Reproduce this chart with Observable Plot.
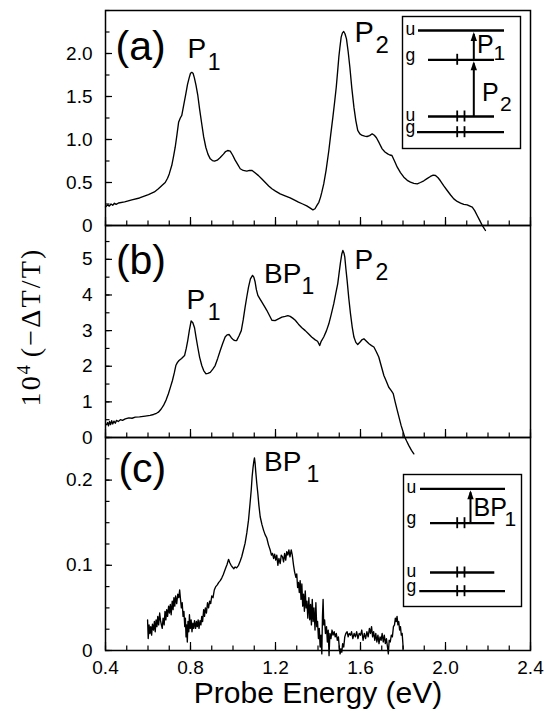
<!DOCTYPE html>
<html>
<head>
<meta charset="utf-8">
<script src="https://cdn.jsdelivr.net/npm/d3@7"></script>
<script src="https://cdn.jsdelivr.net/npm/@observablehq/plot@0.6"></script>
<style>
  body { margin: 0; background: #fff; }
  #chart { position: relative; width: 545px; height: 713px; overflow: hidden; background: #fff; }
  #chart svg { position: absolute; overflow: visible; }
  #ylab { position: absolute; left: 31px; top: 327px; transform: translate(-50%, -50%) rotate(-90deg);
          font-family: "Liberation Serif", "Times New Roman", serif; font-size: 28px; letter-spacing: 2.2px; white-space: nowrap; color: #000; line-height: 1; }
  #ylab sup { font-size: 0.65em; vertical-align: 0.55em; line-height: 0; letter-spacing: 0; }
</style>
</head>
<body>
<div id="chart"><div id="ylab">10<sup>4</sup>&#8201;(&#8722;&#916;T/T)</div></div>
<script>
// ---------- tick values ----------
const xMajor = [0.4, 0.8, 1.2, 1.6, 2.0, 2.4];
const xMinor = d3.range(4, 25).map(d => d / 10);
const yMajorA = [0, 0.5, 1.0, 1.5, 2.0];
const yMinorA = d3.range(0, 11).map(d => d * 0.25);
const yMajorB = [0, 1, 2, 3, 4, 5];
const yMinorB = d3.range(0, 12).map(d => d * 0.5);
const yMajorC = [0, 0.1, 0.2];
const yMinorC = d3.range(0, 11).map(d => d * 0.025);

// ---------- spectra: [probe energy (eV), 10^4(-dT/T)] ----------
const spectrumA = [[0.400,0.215],[0.410,0.240],[0.418,0.225],[0.426,0.250],[0.434,0.235],[0.442,0.258],[0.450,0.245],[0.461,0.262],[0.49,0.275],[0.524,0.299],[0.56,0.32],[0.602,0.36],[0.63,0.39],[0.649,0.427],[0.668,0.47],[0.681,0.50],[0.692,0.55],[0.700,0.60],[0.712,0.70],[0.72,0.80],[0.728,0.91],[0.736,1.05],[0.744,1.20],[0.752,1.25],[0.759,1.28],[0.768,1.40],[0.778,1.53],[0.786,1.64],[0.794,1.72],[0.800,1.77],[0.806,1.78],[0.812,1.77],[0.818,1.72],[0.826,1.63],[0.834,1.52],[0.843,1.35],[0.853,1.18],[0.862,1.03],[0.872,0.91],[0.882,0.83],[0.893,0.775],[0.903,0.755],[0.913,0.748],[0.926,0.76],[0.94,0.79],[0.955,0.83],[0.965,0.86],[0.975,0.872],[0.987,0.864],[0.998,0.82],[1.01,0.76],[1.022,0.71],[1.034,0.66],[1.048,0.64],[1.065,0.632],[1.078,0.64],[1.09,0.64],[1.105,0.61],[1.12,0.58],[1.136,0.54],[1.152,0.50],[1.168,0.46],[1.183,0.427],[1.2,0.40],[1.222,0.368],[1.245,0.345],[1.269,0.322],[1.29,0.295],[1.308,0.271],[1.328,0.25],[1.347,0.228],[1.362,0.205],[1.376,0.182],[1.386,0.195],[1.395,0.233],[1.404,0.27],[1.412,0.33],[1.418,0.388],[1.427,0.484],[1.438,0.64],[1.451,0.872],[1.46,1.06],[1.47,1.26],[1.478,1.43],[1.486,1.61],[1.492,1.78],[1.498,1.957],[1.503,2.07],[1.509,2.19],[1.515,2.24],[1.521,2.256],[1.527,2.23],[1.534,2.17],[1.542,2.02],[1.55,1.84],[1.559,1.60],[1.569,1.376],[1.578,1.22],[1.587,1.105],[1.597,1.065],[1.608,1.047],[1.62,1.04],[1.631,1.035],[1.643,1.045],[1.655,1.066],[1.665,1.05],[1.675,1.02],[1.688,0.96],[1.702,0.891],[1.715,0.855],[1.728,0.833],[1.738,0.82],[1.748,0.814],[1.76,0.75],[1.773,0.678],[1.788,0.615],[1.804,0.562],[1.82,0.525],[1.835,0.504],[1.851,0.49],[1.867,0.484],[1.882,0.50],[1.898,0.52],[1.913,0.545],[1.929,0.57],[1.942,0.585],[1.953,0.581],[1.965,0.555],[1.976,0.52],[1.992,0.46],[2.008,0.407],[2.024,0.355],[2.039,0.31],[2.055,0.28],[2.071,0.26],[2.086,0.245],[2.102,0.24],[2.115,0.225],[2.126,0.213],[2.138,0.17],[2.149,0.116],[2.161,0.06],[2.173,0.0],[2.181,-0.03],[2.188,-0.058]];

const spectrumB = [[0.405,0.36],[0.410,0.42],[0.414,0.33],[0.419,0.45],[0.424,0.36],[0.429,0.47],[0.434,0.38],[0.440,0.46],[0.446,0.40],[0.452,0.48],[0.460,0.45],[0.470,0.50],[0.480,0.48],[0.493,0.525],[0.51,0.55],[0.525,0.54],[0.54,0.57],[0.56,0.58],[0.587,0.60],[0.61,0.62],[0.626,0.646],[0.64,0.68],[0.649,0.71],[0.662,0.80],[0.673,0.90],[0.685,1.05],[0.696,1.23],[0.706,1.42],[0.715,1.60],[0.724,1.82],[0.731,2.02],[0.738,2.10],[0.746,2.16],[0.758,2.22],[0.772,2.30],[0.78,2.50],[0.787,2.72],[0.795,3.02],[0.803,3.27],[0.811,3.22],[0.819,3.08],[0.826,2.82],[0.834,2.54],[0.843,2.25],[0.853,2.02],[0.862,1.88],[0.872,1.79],[0.882,1.80],[0.893,1.83],[0.905,1.92],[0.916,2.02],[0.928,2.22],[0.94,2.44],[0.951,2.63],[0.963,2.82],[0.972,2.88],[0.982,2.89],[0.992,2.80],[1.002,2.74],[1.010,2.72],[1.017,2.72],[1.028,2.85],[1.039,3.0],[1.048,3.30],[1.057,3.66],[1.065,3.95],[1.073,4.22],[1.082,4.45],[1.092,4.55],[1.098,4.50],[1.104,4.37],[1.110,4.15],[1.117,3.99],[1.126,3.90],[1.136,3.80],[1.148,3.68],[1.159,3.57],[1.171,3.43],[1.183,3.29],[1.198,3.28],[1.214,3.33],[1.23,3.38],[1.246,3.40],[1.258,3.42],[1.269,3.40],[1.281,3.35],[1.293,3.29],[1.308,3.18],[1.324,3.08],[1.34,3.0],[1.355,2.91],[1.37,2.82],[1.387,2.74],[1.398,2.70],[1.408,2.58],[1.415,2.70],[1.427,2.82],[1.44,3.0],[1.451,3.19],[1.462,3.45],[1.474,3.75],[1.484,4.05],[1.493,4.32],[1.500,4.65],[1.506,4.92],[1.512,5.15],[1.517,5.25],[1.522,5.18],[1.526,5.07],[1.531,4.75],[1.537,4.41],[1.545,3.90],[1.553,3.47],[1.561,3.10],[1.569,2.82],[1.578,2.67],[1.587,2.61],[1.598,2.68],[1.608,2.75],[1.616,2.77],[1.628,2.70],[1.64,2.63],[1.652,2.58],[1.663,2.54],[1.675,2.40],[1.686,2.26],[1.698,2.00],[1.71,1.74],[1.722,1.57],[1.733,1.41],[1.744,1.32],[1.754,1.23],[1.763,1.00],[1.773,0.76],[1.782,0.55],[1.791,0.34],[1.80,0.17],[1.807,0.03],[1.817,-0.10],[1.827,-0.22],[1.84,-0.36],[1.851,-0.46]];

const spectrumC = [[0.598,0.036],[0.601,0.014],[0.605,0.030],[0.609,0.020],[0.613,0.028],[0.617,0.018],[0.621,0.031],[0.626,0.024],[0.630,0.034],[0.634,0.022],[0.638,0.036],[0.642,0.028],[0.646,0.040],[0.650,0.030],[0.655,0.044],[0.659,0.035],[0.663,0.030],[0.667,0.026],[0.671,0.038],[0.676,0.030],[0.680,0.046],[0.684,0.036],[0.688,0.048],[0.692,0.040],[0.697,0.052],[0.701,0.044],[0.705,0.054],[0.709,0.042],[0.714,0.058],[0.718,0.048],[0.722,0.062],[0.726,0.052],[0.730,0.064],[0.735,0.055],[0.740,0.066],[0.745,0.062],[0.749,0.071],[0.753,0.060],[0.757,0.050],[0.761,0.056],[0.765,0.040],[0.769,0.046],[0.773,0.028],[0.776,0.038],[0.779,0.016],[0.782,0.030],[0.785,0.010],[0.788,0.034],[0.792,0.022],[0.795,0.042],[0.799,0.026],[0.803,0.036],[0.807,0.022],[0.811,0.032],[0.815,0.026],[0.819,0.035],[0.824,0.026],[0.828,0.034],[0.832,0.028],[0.836,0.036],[0.840,0.026],[0.845,0.035],[0.849,0.030],[0.853,0.040],[0.857,0.034],[0.862,0.048],[0.866,0.040],[0.870,0.050],[0.875,0.044],[0.880,0.056],[0.885,0.050],[0.890,0.058],[0.895,0.055],[0.900,0.064],[0.906,0.062],[0.912,0.071],[0.919,0.075],[0.926,0.077],[0.933,0.080],[0.940,0.082],[0.947,0.085],[0.954,0.089],[0.960,0.093],[0.966,0.097],[0.972,0.101],[0.979,0.107],[0.985,0.103],[0.991,0.100],[0.997,0.098],[1.004,0.096],[1.010,0.098],[1.017,0.097],[1.026,0.100],[1.034,0.105],[1.041,0.110],[1.049,0.118],[1.057,0.126],[1.065,0.138],[1.073,0.153],[1.080,0.172],[1.086,0.189],[1.090,0.204],[1.094,0.214],[1.098,0.222],[1.101,0.226],[1.104,0.220],[1.107,0.210],[1.112,0.196],[1.117,0.184],[1.122,0.170],[1.128,0.157],[1.136,0.148],[1.144,0.141],[1.151,0.136],[1.159,0.132],[1.167,0.124],[1.175,0.118],[1.181,0.112],[1.186,0.114],[1.191,0.108],[1.196,0.113],[1.201,0.106],[1.206,0.112],[1.211,0.100],[1.216,0.108],[1.222,0.102],[1.227,0.112],[1.233,0.110],[1.238,0.104],[1.243,0.114],[1.248,0.106],[1.253,0.116],[1.258,0.112],[1.263,0.118],[1.268,0.110],[1.274,0.118],[1.279,0.112],[1.285,0.100],[1.290,0.092],[1.296,0.086],[1.300,0.090],[1.304,0.074],[1.308,0.080],[1.312,0.068],[1.316,0.082],[1.320,0.060],[1.324,0.078],[1.328,0.052],[1.332,0.066],[1.336,0.046],[1.340,0.070],[1.344,0.050],[1.348,0.058],[1.352,0.038],[1.357,0.062],[1.361,0.036],[1.365,0.054],[1.369,0.030],[1.373,0.060],[1.377,0.034],[1.381,0.050],[1.386,0.024],[1.390,0.056],[1.394,0.028],[1.398,0.034],[1.402,0.014],[1.406,0.026],[1.410,0.004],[1.414,0.018],[1.418,-0.004],[1.421,0.040],[1.424,0.060],[1.427,0.030],[1.431,0.036],[1.435,0.020],[1.440,0.028],[1.444,0.010],[1.448,0.024],[1.452,-0.006],[1.456,0.020],[1.461,0.014],[1.466,0.024],[1.471,0.018],[1.476,0.022],[1.481,0.016],[1.486,0.020],[1.491,0.012],[1.496,0.016],[1.500,0.004],[1.504,-0.004],[1.508,0.002],[1.512,-0.002],[1.516,0.008],[1.521,0.004],[1.526,0.016],[1.531,0.020],[1.537,0.022],[1.542,0.016],[1.547,0.020],[1.553,0.018],[1.558,0.022],[1.564,0.014],[1.570,0.020],[1.576,0.016],[1.582,0.022],[1.588,0.014],[1.594,0.020],[1.600,0.018],[1.606,0.024],[1.612,0.012],[1.618,0.020],[1.624,0.014],[1.630,0.022],[1.636,0.016],[1.642,0.026],[1.647,0.020],[1.652,0.028],[1.657,0.016],[1.662,0.022],[1.667,0.012],[1.672,0.020],[1.677,0.010],[1.682,0.018],[1.687,0.008],[1.692,0.016],[1.697,0.012],[1.702,0.020],[1.707,0.010],[1.712,0.018],[1.717,0.008],[1.722,0.014],[1.727,0.004],[1.731,-0.004],[1.735,0.012],[1.740,0.010],[1.745,0.018],[1.750,0.016],[1.755,0.028],[1.760,0.030],[1.764,0.038],[1.768,0.034],[1.772,0.040],[1.776,0.030],[1.780,0.034],[1.784,0.024],[1.788,0.028],[1.792,0.018],[1.796,0.020],[1.799,0.010],[1.801,0.002]];

// ---------- inset level schemes (schematic units) ----------
const levelsA = [{name:"u", y:14, x1:16, x2:102},{name:"g", y:43.3, x1:26, x2:92},{name:"u", y:100, x1:26, x2:92},{name:"g", y:115.7, x1:15, x2:102}];
const electronsA = [{x:54.7, y:43.3},{x:54.7, y:100},{x:62, y:100},{x:54.7, y:115.7},{x:62, y:115.7}];
const transitionsA = [{x:71.3, y1:100, y2:43.3},{x:71.3, y1:43.3, y2:14}];
const levelsC = [{name:"u", y:14.3, x1:17, x2:102},{name:"g", y:48.7, x1:27, x2:91.3},{name:"u", y:98, x1:27, x2:91.3},{name:"g", y:116.7, x1:16.3, x2:102}];
const electronsC = [{x:53.7, y:48.7},{x:61, y:48.7},{x:53.7, y:98},{x:61, y:98},{x:53.7, y:116.7},{x:61, y:116.7}];
const transitionsC = [{x:67, y1:48.7, y2:14.3}];

const FONT = "'Liberation Sans', Arial, Helvetica, sans-serif";
const chart = document.getElementById("chart");
const fmtA = d => d === 0 ? "0" : d3.format(".1f")(d);
const fmtB = d => String(d);
const fmtC = d => d === 0 ? "0" : d3.format(".1f")(d);

function axes(yMajor, yMinor, yFmt, showXLabels) {
  return [
    Plot.axisX(xMinor, {tickSize: -4.5, fill: "none", strokeWidth: 1.2, label: null}),
    Plot.axisX(xMajor, showXLabels
      ? {tickSize: -8, tickPadding: 18, tickFormat: d3.format(".1f"), fontSize: 19, strokeWidth: 1.2, label: null}
      : {tickSize: -8, fill: "none", strokeWidth: 1.2, label: null}),
    Plot.axisY(yMinor, {tickSize: -4.5, fill: "none", strokeWidth: 1.2, label: null}),
    Plot.axisY(yMajor, {tickSize: -7, tickPadding: 20, tickFormat: yFmt, fontSize: 19, strokeWidth: 1.2, label: null}),
    Plot.frame({strokeWidth: 1.5})
  ];
}
function curve(data) {
  return Plot.line(data, {x: d => d[0], y: d => d[1], stroke: "#000", strokeWidth: 1.35, clip: false});
}
function label(text, x, y, size) {
  return Plot.text([text], {x, y, text: d => d, textAnchor: "start", lineAnchor: "bottom", fontSize: size, fill: "#000"});
}
function place(svg, left, top) {
  svg.style.left = left + "px";
  svg.style.top = top + "px";
  chart.appendChild(svg);
}
const baseStyle = {background: "transparent", overflow: "visible", fontFamily: FONT, color: "#000"};

// panel (a)
place(Plot.plot({
  width: 545, height: 225, marginLeft: 105, marginRight: 15, marginTop: 10, marginBottom: 0,
  style: baseStyle,
  x: {domain: [0.4, 2.4], axis: null}, y: {domain: [0, 2.5], axis: null},
  marks: [
    ...axes(yMajorA, yMinorA, fmtA, false),
    curve(spectrumA),
    label("(a)", 0.447, 1.93, 41),
    label("P", 0.786, 1.953, 28), label("1", 0.881, 1.81, 23),
    label("P", 1.572, 2.131, 29), label("2", 1.671, 2.003, 24)
  ]
}), 0, 0);

// panel (b)
place(Plot.plot({
  width: 545, height: 212, marginLeft: 105, marginRight: 15, marginTop: 0, marginBottom: 0,
  style: baseStyle,
  x: {domain: [0.4, 2.4], axis: null}, y: {domain: [0, 5.95], axis: null},
  marks: [
    ...axes(yMajorB, yMinorB, fmtB, false),
    curve(spectrumB),
    label("(b)", 0.449, 4.594, 41),
    label("P", 0.7815, 3.612, 28), label("1", 0.881, 3.303, 23),
    label("BP", 1.146, 4.331, 28), label("1", 1.322, 4.033, 23),
    label("P", 1.572, 4.735, 28), label("2", 1.671, 4.426, 23)
  ]
}), 0, 225);

// panel (c)
place(Plot.plot({
  width: 545, height: 276, marginLeft: 105, marginRight: 15, marginTop: 0, marginBottom: 63,
  style: baseStyle,
  x: {domain: [0.4, 2.4], axis: null}, y: {domain: [0, 0.25], axis: null},
  marks: [
    ...axes(yMajorC, yMinorC, fmtC, true),
    curve(spectrumC),
    label("(c)", 0.461, 0.1975, 41),
    label("BP", 1.146, 0.2104, 28), label("1", 1.346, 0.1975, 23),
    Plot.text(["Probe Energy (eV)"], {frameAnchor: "bottom", dy: 52, lineAnchor: "bottom", fontSize: 30, fill: "#000"})
  ]
}), 0, 437);

// insets
function inset(levels, electrons, transitions, extra) {
  return Plot.plot({
    width: 118, height: 132, margin: 0,
    style: {...baseStyle, background: "#fff"},
    x: {domain: [0, 118], range: [0, 118], axis: null},
    y: {domain: [0, 132], range: [0, 132], axis: null},
    marks: [
      Plot.frame({strokeWidth: 1.4}),
      Plot.ruleY(levels, {y: "y", x1: "x1", x2: "x2", strokeWidth: 2.3}),
      Plot.ruleX(electrons, {x: "x", y1: d => d.y - 5.5, y2: d => d.y + 5.5, strokeWidth: 1.8}),
      Plot.ruleX(transitions, {x: "x", y1: "y1", y2: d => d.y2 + 4, strokeWidth: 2}),
      Plot.vector(transitions, {x: "x", y: d => d.y2 + 1.5, length: 9, r: 3.2, rotate: 0, shape: "spike", anchor: "end", fill: "#000", stroke: "none"}),
      Plot.text(levels.filter(d => d.name === "u"), {x: 3, y: d => d.y - 1.5, text: "name", textAnchor: "start", lineAnchor: "middle", fontSize: 17.5, fill: "#000"}),
      Plot.text(levels.filter(d => d.name === "g"), {x: 3, y: d => d.y + 1, text: "name", textAnchor: "start", lineAnchor: "bottom", fontSize: 17.5, fill: "#000"}),
      ...extra
    ]
  });
}
function ilabel(text, x, y, size) {
  return Plot.text([text], {x, y, text: d => d, textAnchor: "start", lineAnchor: "bottom", fontSize: size, fill: "#000"});
}
place(inset(levelsA, electronsA, transitionsA, [
  ilabel("P", 74.5, 36.7, 25), ilabel("1", 91, 43.3, 21),
  ilabel("P", 79.5, 84, 25), ilabel("2", 97.5, 94, 21)
]), 402, 16);
place(inset(levelsC, electronsC, transitionsC, [
  ilabel("BP", 70, 41, 25), ilabel("1", 101, 51, 21)
]), 403, 474);
</script>
</body>
</html>
